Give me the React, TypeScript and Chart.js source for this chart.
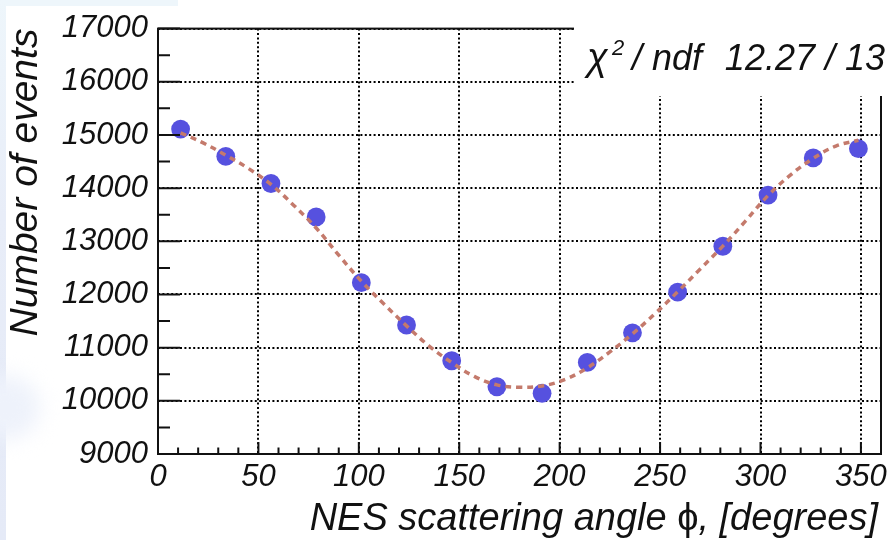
import React, { useEffect, useRef } from 'react';
import { Chart, registerables } from 'chart.js';

Chart.register(...registerables);

// Measured asymmetry histogram: bin centres (degrees) and event counts
const binCenters = [
  11.25, 33.75, 56.25, 78.75, 101.25, 123.75, 146.25, 168.75,
  191.25, 213.75, 236.25, 258.75, 281.25, 303.75, 326.25, 348.75,
];
const eventCounts = [
  15111, 14598, 14087, 13457, 12222, 11426, 10754, 10265,
  10142, 10722, 11278, 12043, 12907, 13870, 14568, 14741,
];

// Fitted curve, sampled along the angle range
const fitAngles = [
  11.25, 22.5, 33.75, 45, 56.25, 67.5, 78.75, 90, 101.25, 112.5, 123.75,
  135, 146.25, 157.5, 168.75, 180, 191.25, 202.5, 213.75, 225, 236.25,
  247.5, 258.75, 270, 281.25, 292.5, 303.75, 315, 326.25, 337.5, 348.75,
];
const fitValues = [
  15040, 14850, 14620, 14370, 14070, 13680, 13250, 12740, 12250, 11820, 11410,
  11030, 10720, 10460, 10300, 10255, 10280, 10400, 10620, 10920, 11260,
  11640, 12050, 12480, 12910, 13380, 13860, 14250, 14560, 14790, 14900,
];

const xMajorTicks = [0, 50, 100, 150, 200, 250, 300, 350];
const yMajorTicks = [9000, 10000, 11000, 12000, 13000, 14000, 15000, 16000, 17000];
const xMinorStep = 10;
const yMinorStep = 500;

const xTitleParts = ['NES scattering angle ', '\u03D5', ', [degrees]'];
const yTitle = 'Number of events';
const statsParts = { symbol: '\u03C7', power: '2', name: '/ ndf', value: '12.27 / 13' };

const FONT = '"Liberation Sans", Arial, Helvetica, sans-serif';
const INK = '#111111';

const rootFrame = {
  id: 'rootFrame',
  afterDraw(chart: any) {
    const { ctx, chartArea: a, scales } = chart;
    const xs = scales.x;
    const ys = scales.y;
    ctx.save();

    // frame
    ctx.strokeStyle = INK;
    ctx.lineWidth = 2;
    ctx.strokeRect(a.left, a.top, a.right - a.left, a.bottom - a.top);

    // inward ticks on the y axis
    ctx.beginPath();
    for (let v = ys.min; v <= ys.max; v += yMinorStep) {
      const py = ys.getPixelForValue(v);
      const len = yMajorTicks.includes(v) ? 22 : 12;
      ctx.moveTo(a.left, py);
      ctx.lineTo(a.left + len, py);
    }
    // inward ticks on the x axis
    for (let v = xs.min; v < xs.max; v += xMinorStep) {
      const px = xs.getPixelForValue(v);
      const len = xMajorTicks.includes(v) ? 12 : 6.5;
      ctx.moveTo(px, a.bottom);
      ctx.lineTo(px, a.bottom - len);
    }
    ctx.stroke();

    // x-axis title, right-aligned to the axis end; the phi glyph is upright
    ctx.fillStyle = INK;
    ctx.textBaseline = 'alphabetic';
    ctx.textAlign = 'left';
    const italic = `italic 38px ${FONT}`;
    const upright = `normal 38px ${FONT}`;
    const fonts = [italic, upright, italic];
    let total = 0;
    const widths = xTitleParts.map((t, i) => {
      ctx.font = fonts[i];
      const w = ctx.measureText(t).width;
      total += w;
      return w;
    });
    let tx = a.right - 3 - total;
    xTitleParts.forEach((t, i) => {
      ctx.font = fonts[i];
      ctx.fillText(t, tx, 530);
      tx += widths[i];
    });

    // fit statistics box
    ctx.fillStyle = '#ffffff';
    ctx.fillRect(574, 0, chart.width - 574, 96);

    ctx.fillStyle = INK;
    ctx.font = `italic 38px ${FONT}`;
    ctx.fillText(statsParts.symbol, 587, 70);
    ctx.font = `italic 22px ${FONT}`;
    ctx.fillText(statsParts.power, 612, 55);
    ctx.font = `italic 36px ${FONT}`;
    ctx.fillText(statsParts.name, 632, 70);
    ctx.textAlign = 'right';
    ctx.fillText(statsParts.value, 885, 70);

    ctx.restore();
  },
};

export default function App() {
  const canvasRef = useRef<HTMLCanvasElement | null>(null);

  useEffect(() => {
    const canvas = canvasRef.current;
    if (!canvas) return;

    const tickFont = { family: FONT, size: 31, style: 'italic' as const };
    const gridStyle = {
      color: '#000000',
      lineWidth: 2,
      drawTicks: false,
    };

    const chart = new Chart(canvas, {
      type: 'scatter',
      data: {
        datasets: [
          {
            label: 'fit',
            type: 'line',
            data: fitAngles.map((x, i) => ({ x, y: fitValues[i] })),
            borderColor: '#c47a6c',
            borderWidth: 3.5,
            borderDash: [6, 5],
            pointRadius: 0,
            tension: 0.4,
            fill: false,
          },
          {
            label: 'events',
            data: binCenters.map((x, i) => ({ x, y: eventCounts[i] })),
            backgroundColor: '#5651df',
            borderWidth: 0,
            pointRadius: 9.4,
          },
        ],
      },
      options: {
        animation: false,
        responsive: true,
        maintainAspectRatio: false,
        events: [],
        layout: { padding: { top: 22.5, right: 13, left: 0, bottom: 0 } },
        plugins: {
          legend: { display: false },
          tooltip: { enabled: false },
        },
        scales: {
          x: {
            type: 'linear',
            min: 0,
            max: 360,
            afterBuildTicks: (s: any) => {
              s.ticks = xMajorTicks.map((value) => ({ value }));
            },
            afterFit: (s: any) => {
              s.height = 86;
            },
            ticks: {
              font: tickFont,
              color: INK,
              padding: 5,
              maxRotation: 0,
              autoSkip: false,
              callback: (v: any) => String(v),
            },
            grid: { ...gridStyle },
            border: { display: false, dash: [2, 2.4] },
            title: { display: false },
          },
          y: {
            type: 'linear',
            min: 9000,
            max: 17000,
            afterBuildTicks: (s: any) => {
              s.ticks = yMajorTicks.map((value) => ({ value }));
            },
            afterFit: (s: any) => {
              s.width = 158;
            },
            ticks: {
              font: tickFont,
              color: INK,
              padding: 10,
              autoSkip: false,
              callback: (v: any) => String(v),
            },
            grid: { ...gridStyle },
            border: { display: false, dash: [2, 2.4] },
            title: {
              display: true,
              text: yTitle,
              align: 'end',
              color: INK,
              font: { family: FONT, size: 39, style: 'italic' },
              padding: { top: 3, bottom: 0 },
            },
          },
        },
      },
      plugins: [rootFrame],
    });

    return () => chart.destroy();
  }, []);

  return (
    <div
      style={{
        position: 'fixed',
        left: 0,
        top: 0,
        width: 894,
        height: 540,
        background: '#ffffff',
        overflow: 'hidden',
      }}
    >
      <div style={{ position: 'absolute', left: 0, top: 0, width: 178, height: 6, background: '#eef6fb' }} />
      <div
        style={{
          position: 'absolute',
          left: 0,
          top: 0,
          width: 6,
          height: 540,
          background: 'linear-gradient(180deg, #eef6fb 0%, #e8edf8 40%, #e5eaf7 100%)',
        }}
      />
      <div
        style={{
          position: 'absolute',
          left: -30,
          top: 375,
          width: 70,
          height: 65,
          borderRadius: '50%',
          background: '#eef2fb',
          filter: 'blur(10px)',
        }}
      />
      <canvas ref={canvasRef} style={{ position: 'absolute', left: 0, top: 0, width: 894, height: 540 }} />
    </div>
  );
}
